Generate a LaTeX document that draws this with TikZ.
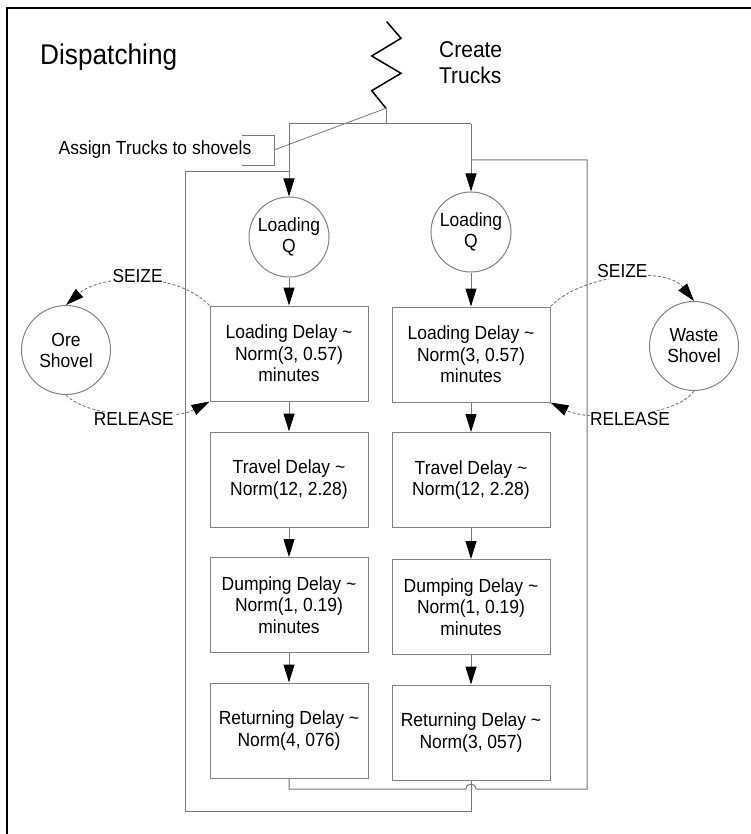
\documentclass[tikz,border=0pt]{standalone}
\usepackage{fontspec}
\setmainfont[FakeStretch=0.92]{Liberation Sans}
\usetikzlibrary{arrows.meta}
\definecolor{lineg}{RGB}{120,120,120}
\definecolor{boxg}{RGB}{130,130,130}
\begin{document}
\begin{tikzpicture}[x=1pt,y=-1pt,
  conn/.style={draw=lineg, line width=1pt},
  arr/.style={conn, -{Triangle[length=18pt,width=11pt,color=black,fill=black]}},
  delaybox/.style={draw=boxg, line width=1pt, minimum width=158pt, minimum height=95pt, align=center, inner sep=0pt, font=\fontsize{19}{21.5}\selectfont},
  qcirc/.style={draw=boxg, line width=1pt, circle, minimum size=80pt, inner sep=0pt, align=center, font=\fontsize{19}{21}\selectfont},
  rescirc/.style={qcirc, minimum size=89pt},
  res/.style={draw=lineg, line width=0.9pt, dash pattern=on 3pt off 2pt, -{Triangle[length=18pt,width=11pt,color=black,fill=black]}},
  lbl/.style={fill=white, inner sep=0.5pt, font=\fontsize{18.8}{20}\selectfont}
]
\useasboundingbox (0,0) rectangle (751,834);
\fill[white] (0,0) rectangle (751,834);
% frame
\draw[line width=2pt, black] (7,834) -- (7,8) -- (751,8);

% texts
\node[anchor=west, inner sep=0pt, font=\fontsize{28.5}{32}\selectfont] (title) at (40,57) {Dispatching};
\node[anchor=west, inner sep=0pt, align=left, font=\fontsize{22.8}{26}\selectfont] (create) at (439,63) {Create\\Trucks};
\node[inner sep=0pt, font=\fontsize{19}{21}\selectfont] (assign) at (155,150) {Assign Trucks to shovels};

% queues and resources
\node[qcirc] (lq) at (289,237) {Loading\\Q};
\node[qcirc] (rq) at (471,232) {Loading\\Q};
\node[rescirc] (ore) at (66,350) {Ore\\Shovel};
\node[rescirc] (waste) at (694,346) {Waste\\Shovel};

% delay boxes
\node[delaybox] (l1) at (289,353.5) {Loading Delay \textasciitilde\\Norm(3, 0.57)\\minutes};
\node[delaybox] (l2) at (289,479.5) {Travel Delay \textasciitilde\\Norm(12, 2.28)};
\node[delaybox] (l3) at (289,605) {Dumping Delay \textasciitilde\\Norm(1, 0.19)\\minutes};
\node[delaybox] (l4) at (289,730.5) {Returning Delay \textasciitilde\\Norm(4, 076)};
\node[delaybox] (r1) at (471,354.5) {Loading Delay \textasciitilde\\Norm(3, 0.57)\\minutes};
\node[delaybox] (r2) at (471,480) {Travel Delay \textasciitilde\\Norm(12, 2.28)};
\node[delaybox] (r3) at (471,607) {Dumping Delay \textasciitilde\\Norm(1, 0.19)\\minutes};
\node[delaybox] (r4) at (471,732.5) {Returning Delay \textasciitilde\\Norm(3, 057)};

% create symbol
\coordinate (zz) at (386,108.3);
\draw[black, line width=1.5pt] (386.7,21.7) -- (401,38.3) -- (371.7,56) -- (401,73.3) -- (371.7,90.7) -- (zz);
\coordinate (split) at (386,124);
\coordinate (sl) at (289,124);
\coordinate (sr) at (471,124);
\draw[conn] (zz) -- (split);
\draw[conn] (sl) -- (sr);
\draw[arr] (sl) -- (lq.north);
\draw[arr] (sr) -- (rq.north);

% annotation bracket
\coordinate (b1) at (242,136);
\coordinate (b2) at (274,136);
\coordinate (b3) at (274,166);
\coordinate (b4) at (242,166);
\coordinate (bm) at (274,150);
\draw[conn] (b1) -- (b2) -- (b3) -- (b4);
\draw[conn, line width=0.8pt] (bm) -- (zz);

% column arrows
\draw[arr] (lq.south) -- (l1.north);
\draw[arr] (l1.south) -- (l2.north);
\draw[arr] (l2.south) -- (l3.north);
\draw[arr] (l3.south) -- (l4.north);
\draw[arr] (rq.south) -- (r1.north);
\draw[arr] (r1.south) -- (r2.north);
\draw[arr] (r2.south) -- (r3.north);
\draw[arr] (r3.south) -- (r4.north);

% seize / release
\draw[res] (l1.north west) .. controls (175,270) and (100,275) .. node[lbl, pos=0.5, yshift=5pt] (seizel) {SEIZE} (ore.north);
\draw[res] (ore.south) .. controls (90,420) and (175,420) .. node[lbl, pos=0.5, yshift=-4.5pt] (releasel) {RELEASE} (l1.south west);
\draw[res] (r1.north east) .. controls (580,275) and (665,265) .. node[lbl, pos=0.5, yshift=7pt] (seizer) {SEIZE} (waste.north);
\draw[res] (waste.south) .. controls (675,418) and (590,422) .. node[lbl, pos=0.5, yshift=-5pt] (releaser) {RELEASE} (r1.south east);

% loops
\coordinate (ll1) at (471,811);
\coordinate (ll2) at (185,811);
\coordinate (ll3) at (185,172);
\coordinate (ll4) at (289,172);
\draw[conn] (r4.south) -- (ll1) -- (ll2) -- (ll3) -- (ll4);
\coordinate (rl1) at (289,789);
\coordinate (h1) at (466,789);
\coordinate (h2) at (476,789);
\coordinate (rl2) at (587,789);
\coordinate (rl3) at (587,160);
\coordinate (rl4) at (471,160);
\draw[conn] (l4.south) -- (rl1) -- (h1) .. controls (466,782.5) and (476,782.5) .. (h2) -- (rl2) -- (rl3) -- (rl4);
\end{tikzpicture}
\end{document}
